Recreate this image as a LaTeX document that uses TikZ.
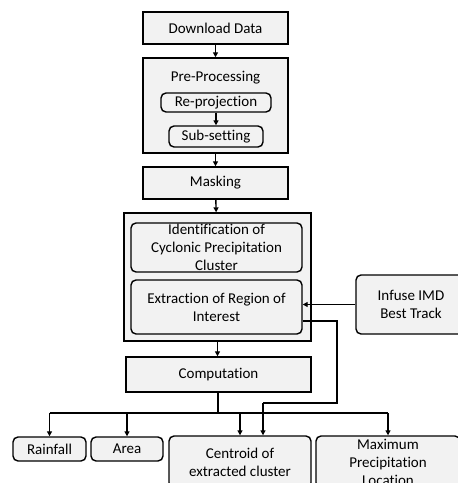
\documentclass[tikz,border=0pt]{standalone}
\usepackage{fontspec}
\setmainfont[RawFeature=-liga]{Carlito}
\usetikzlibrary{arrows.meta,calc}
\begin{document}
\begin{tikzpicture}[x=1pt,y=-1pt,
  every node/.style={font=\fontsize{15}{18}\selectfont,inner sep=0pt,align=center},
  sqbox/.style={draw=black,line width=1.4pt,fill=gray!10},
  rbox/.style={draw=black,line width=1.4pt,fill=gray!10,rounded corners=5pt},
  conn/.style={line width=1.4pt,-{Triangle[length=5pt,width=5pt]}},
  line/.style={line width=1.4pt}]
\useasboundingbox (0,0) rectangle (458,483);
\clip (0,0) rectangle (458,483);
\node[sqbox,minimum width=145pt,minimum height=32pt] (dl) at (215.5,28) {Download Data};
\node[sqbox,minimum width=145pt,minimum height=95pt] (pre) at (215.5,105.5) {};
\node (pret) at (215.5,78) {Pre-Processing};
\node[rbox,minimum width=110pt,minimum height=19pt] (rep) at (216,102.5) {Re-projection};
\node[rbox,minimum width=94pt,minimum height=21pt] (sub) at (216,136.5) {Sub-setting};
\node[sqbox,minimum width=145pt,minimum height=32pt] (mask) at (215.5,183) {Masking};
\node[sqbox,minimum width=187pt,minimum height=128pt] (grp) at (217.5,277) {};
\node[rbox,minimum width=171pt,minimum height=49pt] (ident) at (216.5,247.5) {Identification of\\Cyclonic Precipitation\\Cluster};
\node[rbox,minimum width=171pt,minimum height=54pt] (ext) at (216.5,307) {Extraction of Region of\\Interest};
\node[rbox,minimum width=110pt,minimum height=59pt] (imd) at (411,304.5) {Infuse IMD\\Best Track};
\node[sqbox,minimum width=185pt,minimum height=35pt] (comp) at (218.5,374.5) {Computation};
\node[rbox,minimum width=73pt,minimum height=24pt] (rain) at (49.5,449) {Rainfall};
\node[rbox,minimum width=72pt,minimum height=24pt] (area) at (127,449) {Area};
\node[rbox,minimum width=142pt,minimum height=52pt] (cent) at (240,462) {Centroid of\\extracted cluster};
\node[rbox,minimum width=144pt,minimum height=52pt] (maxp) at (388,462) {Maximum\\Precipitation\\Location};
\coordinate (j) at (218,413);
\coordinate (e1) at (337,321);
\coordinate (e2) at (337,403);
\coordinate (e3) at (263,403);
\draw[conn] (dl) -- (pre);
\draw[conn] (rep) -- (sub);
\draw[conn] (pre) -- (mask);
\draw[conn] (mask) -- (grp);
\draw[conn] (grp.south -| comp.north) ++(-1,0) -- ([xshift=-1pt]comp.north);
\draw[conn] (imd.west) -- (imd.west -| ext.east);
\draw[line] (comp.south -| j) -- (j);
\draw[line] (rain.north |- j) -- (maxp.north |- j);
\draw[conn] (rain.north |- j) -- (rain.north);
\draw[conn] (area.north |- j) -- (area.north);
\draw[conn] (j -| 240,0) -- (cent.north);
\draw[conn] (maxp.north |- j) -- (maxp.north);
\draw[line] (e1 -| ext.east) -- (e1) -- (e2) -- (e3);
\draw[conn] (e3) -- (e3 |- cent.north);
\end{tikzpicture}
\end{document}
